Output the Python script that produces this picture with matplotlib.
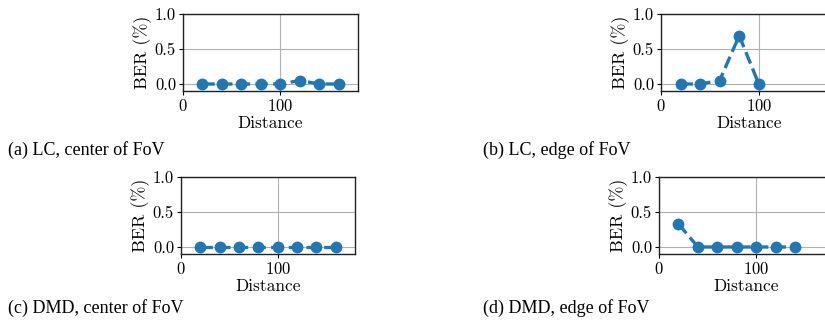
import matplotlib
matplotlib.use("Agg")
import matplotlib.pyplot as plt

plt.rcParams["font.family"] = "serif"
plt.rcParams["font.serif"] = ["cmr10"]
plt.rcParams["mathtext.fontset"] = "cm"
plt.rcParams["axes.unicode_minus"] = False
plt.rcParams["axes.formatter.use_mathtext"] = True

# data
dist_a = [20, 40, 60, 80, 100, 120, 140, 160]
ber_a = [0, 0, 0, 0, 0, 0.05, 0, 0]
dist_b = [20, 40, 60, 80, 100]
ber_b = [0, 0, 0.05, 0.69, 0]
dist_c = [20, 40, 60, 80, 100, 120, 140, 160]
ber_c = [0, 0, 0, 0, 0, 0, 0, 0]
dist_d = [20, 40, 60, 80, 100, 120, 140]
ber_d = [0.33, 0, 0, 0, 0, 0, 0]
captions = ["(a) LC, center of FoV", "(b) LC, edge of FoV",
            "(c) DMD, center of FoV", "(d) DMD, edge of FoV"]

W, H = 825, 322
fig = plt.figure(figsize=(W / 100, H / 100), dpi=100)


def box(left, top, width, height):
    return [left / W, (H - top - height) / H, width / W, height / H]


panels = [
    (box(183, 14, 175, 77), dist_a, ber_a, (8, 155)),
    (box(661, 14, 176, 77), dist_b, ber_b, (483, 155)),
    (box(181, 177, 174, 77), dist_c, ber_c, (8, 313)),
    (box(659, 177, 175, 77), dist_d, ber_d, (483, 313)),
]

for (rect, x, y, cap_pos), cap in zip(panels, captions):
    ax = fig.add_axes(rect)
    ax.plot(x, y, "--o", color="#1f77b4", linewidth=2.4, markersize=7.5)
    ax.set_xlim(0, 180)
    ax.set_ylim(-0.1, 1.0)
    ax.set_xticks([0, 100])
    ax.set_yticks([0.0, 0.5, 1.0])
    ax.set_yticklabels(["0.0", "0.5", "1.0"])
    ax.grid(True, color="#b0b0b0", linewidth=0.8)
    ax.set_axisbelow(True)
    for s in ax.spines.values():
        s.set_linewidth(1.0)
        s.set_color("#222222")
    ax.tick_params(labelsize=12, length=3, width=0.8, pad=2)
    ax.set_xlabel("Distance", fontsize=12.5, labelpad=1)
    ax.set_ylabel("BER (%)", fontsize=13, labelpad=2)
    fig.text(cap_pos[0] / W, 1 - cap_pos[1] / H, cap, fontsize=13,
             family="Liberation Serif", ha="left", va="baseline")

fig.savefig("out.png", dpi=100)
